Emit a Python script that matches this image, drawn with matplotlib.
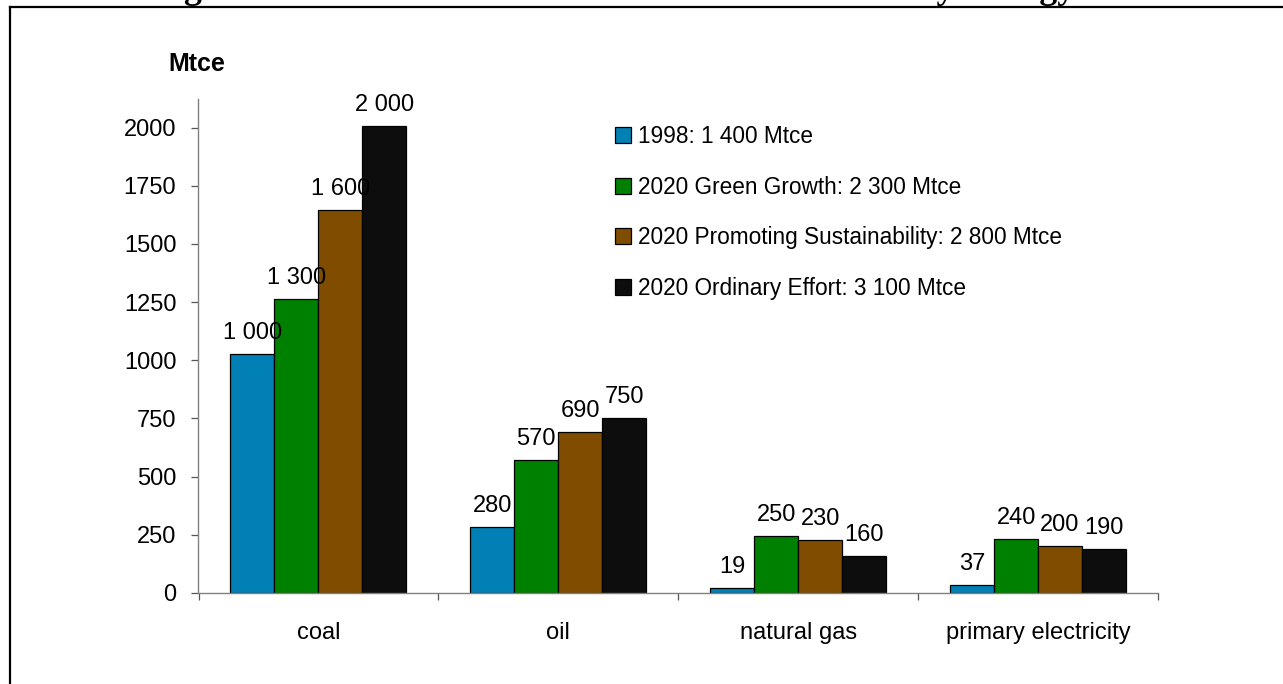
import matplotlib.pyplot as plt
import numpy as np
from matplotlib.lines import Line2D

# Data
kategorier = ['coal', 'oil', 'natural gas', 'primary electricity']
serie_namn = ['1998: 1 400 Mtce',
              '2020 Green Growth: 2 300 Mtce',
              '2020 Promoting Sustainability: 2 800 Mtce',
              '2020 Ordinary Effort: 3 100 Mtce']

varden_1998 = [1026, 281, 21, 35]
varden_green = [1262, 573, 244, 231]
varden_promoting = [1644, 691, 225, 200]
varden_ordinary = [2007, 752, 158, 187]

etiketter_1998 = ['1 000', '280', '19', '37']
etiketter_green = ['1 300', '570', '250', '240']
etiketter_promoting = ['1 600', '690', '230', '200']
etiketter_ordinary = ['2 000', '750', '160', '190']

y_ticks = [0, 250, 500, 750, 1000, 1250, 1500, 1750, 2000]

farger = ['#0080B4', '#008000', '#7F4C00', '#0D0D0D']

plt.rcParams['font.family'] = ['Liberation Sans', 'DejaVu Sans']
FS = 17          # siffror och kategorier
FS_LEG = 16.3    # förklaringen

fig = plt.figure(figsize=(12.83, 6.84), dpi=100)
ax = fig.add_axes([198.5 / 1283, 1 - 592.8 / 684, (1158 - 198.5) / 1283, (592.8 - 99) / 684])

x = np.arange(len(kategorier))
w = 0.1833
alla_varden = [varden_1998, varden_green, varden_promoting, varden_ordinary]
alla_etiketter = [etiketter_1998, etiketter_green, etiketter_promoting, etiketter_ordinary]

staplar = []
for i in range(4):
    pos = x + (i - 1.5) * w
    b = ax.bar(pos, alla_varden[i], width=w, color=farger[i], edgecolor='black',
               linewidth=0.9, label=serie_namn[i])
    staplar.append(b)
    for p, v, t in zip(pos, alla_varden[i], alla_etiketter[i]):
        ax.annotate(t, (p, v), xytext=(0, 10.8), textcoords='offset points',
                    ha='center', va='baseline', fontsize=FS)

ax.set_xlim(-0.5, 3.5)
ax.set_ylim(0, 2123)

# x-axel: streck mellan kategorierna, text i mitten
ax.set_xticks([-0.5, 0.5, 1.5, 2.5, 3.5])
ax.set_xticklabels([])
ax.set_xticks(x, minor=True)
ax.set_xticklabels(kategorier, minor=True, fontsize=FS)
ax.tick_params(axis='x', which='major', length=5, width=0.9, color='#555555', direction='out')
ax.tick_params(axis='x', which='minor', length=0, pad=21)

ax.set_yticks(y_ticks)
ax.set_yticklabels([str(v) for v in y_ticks], fontsize=FS)
ax.tick_params(axis='y', length=5, width=0.9, color='#555555', direction='out', pad=11)

for s in ['top', 'right']:
    ax.spines[s].set_visible(False)
for s in ['left', 'bottom']:
    ax.spines[s].set_color('#808080')
    ax.spines[s].set_linewidth(1.0)

# Förklaring
ax.legend(handles=staplar, loc='upper left', bbox_to_anchor=(615 / 1283, 1 - 125 / 684),
          bbox_transform=fig.transFigure, frameon=False, fontsize=FS_LEG,
          handlelength=0.72, handleheight=0.72, handletextpad=0.3,
          labelspacing=1.22, borderpad=0, borderaxespad=0)

# Enhet
fig.text(168 / 1283, 1 - 64 / 684, 'Mtce', fontsize=18, fontweight='bold',
         ha='left', va='center')

# Ram runt figuren
fig.add_artist(Line2D([10 / 1283, 1.0], [1 - 7 / 684, 1 - 7 / 684],
                      transform=fig.transFigure, color='black', linewidth=1.6))
fig.add_artist(Line2D([10 / 1283, 10 / 1283], [0, 1 - 7 / 684],
                      transform=fig.transFigure, color='black', linewidth=1.6))

# Titel (avklippt i överkant)
fig.text(152 / 1283, 1 + 2 / 684, "Figure 1: Three Scenarios for China's Total Primary Energy Use",
         fontsize=25.8, fontweight='bold', family='Liberation Serif',
         ha='left', va='baseline')

fig.savefig('out.png', dpi=100)
